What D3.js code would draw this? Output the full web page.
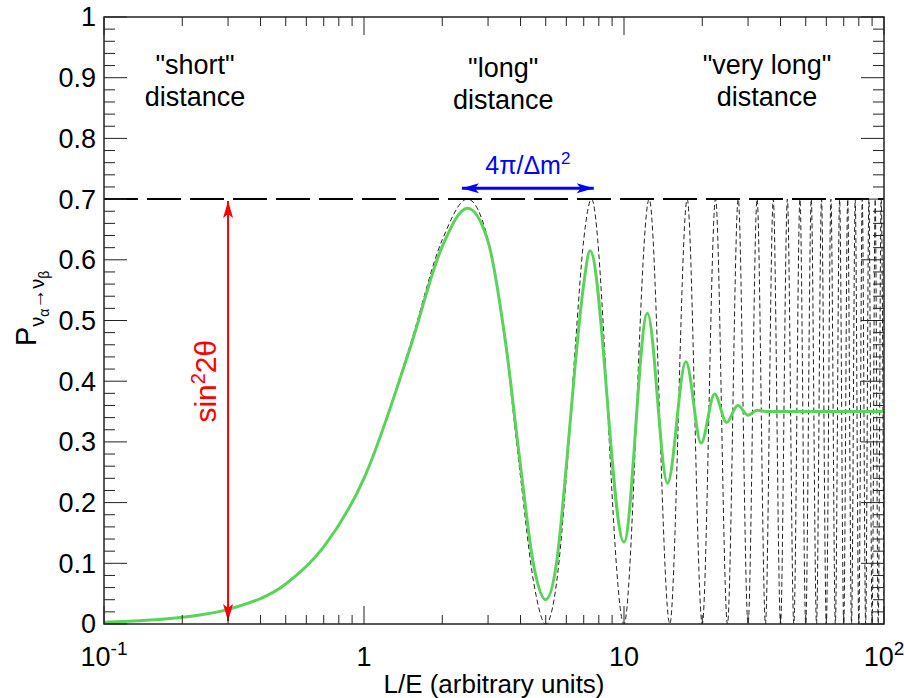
<!DOCTYPE html>
<html>
<head>
<meta charset="utf-8">
<script src="https://cdn.jsdelivr.net/npm/d3@7"></script>
<style>
	body { margin: 0; background: #fff; }
	svg text { font-family: 'Liberation Sans', Arial, Helvetica, sans-serif; }
</style>
</head>
<body>
<div class="chart"></div>
<script>
// pure oscillation (black dashed)
const dashedX = [0.1, 0.2, 0.3, 0.5, 0.7, 1, 1.5, 2, 2.5, 3, 3.5, 4, 4.5, 5, 5.5, 6, 6.5, 7, 7.5,
	10, 12.5, 15, 17.5, 20, 22.5, 25, 27.5, 30, 32.5, 35, 37.5, 40, 42.5, 45, 47.5, 50, 52.5,
	55, 57.5, 60, 62.5, 65, 67.5, 70, 72.5, 75, 77.5, 80, 82.5, 85, 87.5, 90, 92.5, 95, 97.5, 100]
const dashedY = [0.003, 0.011, 0.024, 0.067, 0.128, 0.242, 0.458, 0.633, 0.7, 0.633, 0.458, 0.242, 0.067, 0, 0.067, 0.242, 0.458, 0.633, 0.7,
	0, 0.7, 0, 0.7, 0, 0.7, 0, 0.7, 0, 0.7, 0, 0.7, 0, 0.7, 0, 0.7, 0, 0.7,
	0, 0.7, 0, 0.7, 0, 0.7, 0, 0.7, 0, 0.7, 0, 0.7, 0, 0.7, 0, 0.7, 0, 0.7, 0]

// averaged probability (green)
const greenX = [0.1, 0.2, 0.3, 0.5, 0.7, 1, 1.5, 2, 2.5, 3, 3.5, 4, 4.5, 5, 5.5, 6, 6.5, 7, 7.4,
	10, 12.3, 14.7, 17.3, 19.8, 22.3, 24.8, 27.4, 30, 32.5, 36, 100]
const greenY = [0.003, 0.011, 0.024, 0.066, 0.127, 0.24, 0.453, 0.622, 0.685, 0.63, 0.465, 0.26, 0.095, 0.04, 0.1, 0.26, 0.43, 0.56, 0.615,
	0.135, 0.512, 0.232, 0.432, 0.298, 0.379, 0.332, 0.36, 0.344, 0.352, 0.35, 0.35]

const AMPLITUDE = 0.7
const regionX = [0.224, 3.43, 35.5]
const regionLines = [['"short"', 'distance'], ['"long"', 'distance'], ['"very long"', 'distance']]
const regionTop = [57, 60, 57]
const xTickValues = [0.1, 1, 10, 100]
const xTickLabels = [['10', '-1'], ['1', ''], ['10', ''], ['10', '2']]
const yTickValues = [0, 0.1, 0.2, 0.3, 0.4, 0.5, 0.6, 0.7, 0.8, 0.9, 1]
const yTickLabels = ['0', '0.1', '0.2', '0.3', '0.4', '0.5', '0.6', '0.7', '0.8', '0.9', '1']
const sinArrowX = 0.3
const periodArrow = [2.38, 7.65]
const periodArrowY = 0.718

const width = 904
const height = 698
const margin = { top: 17, right: 20, bottom: 74, left: 104 }
const chartWidth = width - margin.left - margin.right
const chartHeight = height - margin.top - margin.bottom

const scaleX = d3.scaleLog().domain([0.1, 100]).range([0, chartWidth])
const scaleY = d3.scaleLinear().domain([0, 1]).range([chartHeight, 0])

const svg = d3.select('.chart').append('svg')
	.attr('width', width)
	.attr('height', height)

const defs = svg.append('defs')
defs.append('clipPath').attr('id', 'clip')
	.append('rect')
	.attr('width', chartWidth)
	.attr('height', chartHeight)

function marker(id, color) {
	defs.append('marker')
		.attr('id', id)
		.attr('markerUnits', 'userSpaceOnUse')
		.attr('viewBox', '-18 -6 20 12')
		.attr('markerWidth', 20)
		.attr('markerHeight', 12)
		.attr('refX', 0)
		.attr('refY', 0)
		.attr('orient', 'auto-start-reverse')
		.append('path')
		.attr('d', 'M0,0 L-17,-5 L-13,0 L-17,5 Z')
		.attr('fill', color)
}
marker('head-red', '#ff0000')
marker('head-blue', '#0000ff')

const g = svg.append('g').attr('transform', `translate(${margin.left},${margin.top})`)

const plot = g.append('g').attr('clip-path', 'url(#clip)')

const line = d3.line()
	.x(d => scaleX(d[0]))
	.y(d => scaleY(d[1]))
	.curve(d3.curveMonotoneX)

plot.append('path')
	.datum(d3.zip(dashedX, dashedY))
	.attr('d', line)
	.attr('fill', 'none')
	.attr('stroke', '#222')
	.attr('stroke-width', 1)
	.attr('stroke-dasharray', '5,3')

plot.append('line')
	.attr('x1', 0)
	.attr('x2', chartWidth)
	.attr('y1', scaleY(AMPLITUDE))
	.attr('y2', scaleY(AMPLITUDE))
	.attr('stroke', '#000')
	.attr('stroke-width', 2)
	.attr('stroke-dasharray', '34,9')

plot.append('path')
	.datum(d3.zip(greenX, greenY))
	.attr('d', line)
	.attr('fill', 'none')
	.attr('stroke', '#5ad35a')
	.attr('stroke-width', 3)

// sin^2 2theta arrow
g.append('line')
	.attr('x1', scaleX(sinArrowX))
	.attr('x2', scaleX(sinArrowX))
	.attr('y1', scaleY(0.005))
	.attr('y2', scaleY(AMPLITUDE - 0.003))
	.attr('stroke', '#ff0000')
	.attr('stroke-width', 2)
	.attr('marker-start', 'url(#head-red)')
	.attr('marker-end', 'url(#head-red)')

g.append('text')
	.attr('transform', `translate(${scaleX(sinArrowX) - 12},${scaleY(0.4)}) rotate(-90)`)
	.attr('text-anchor', 'middle')
	.attr('fill', '#ff0000')
	.style('font-size', '30px')
	.call(t => {
		t.append('tspan').text('sin')
		t.append('tspan').attr('dy', -11).style('font-size', '20px').text('2')
		t.append('tspan').attr('dy', 11).text('2θ')
	})

// period arrow
g.append('line')
	.attr('x1', scaleX(periodArrow[0]))
	.attr('x2', scaleX(periodArrow[1]))
	.attr('y1', scaleY(periodArrowY))
	.attr('y2', scaleY(periodArrowY))
	.attr('stroke', '#0000ff')
	.attr('stroke-width', 3)
	.attr('marker-start', 'url(#head-blue)')
	.attr('marker-end', 'url(#head-blue)')

g.append('text')
	.attr('x', (scaleX(periodArrow[0]) + scaleX(periodArrow[1])) / 2)
	.attr('y', scaleY(periodArrowY) - 14)
	.attr('text-anchor', 'middle')
	.attr('fill', '#0000ff')
	.style('font-size', '25px')
	.call(t => {
		t.append('tspan').text('4π/Δm')
		t.append('tspan').attr('dy', -10).style('font-size', '17px').text('2')
	})

// region labels
const region = g.selectAll('.region').data(regionX).enter().append('text')
	.attr('class', 'region')
	.attr('text-anchor', 'middle')
	.style('font-size', '27px')
	.attr('fill', '#000')
region.selectAll('tspan').data((d, i) => regionLines[i].map(l => ({ x: d, l, top: regionTop[i] }))).enter().append('tspan')
	.attr('x', d => scaleX(d.x))
	.attr('y', (d, i) => d.top + i * 32)
	.text(d => d.l)

// frame
g.append('rect')
	.attr('width', chartWidth)
	.attr('height', chartHeight)
	.attr('fill', 'none')
	.attr('stroke', '#222')
	.attr('stroke-width', 1.5)

// ticks
const xTicks = scaleX.ticks().map(v => ({ v, major: Math.abs(Math.log10(v) - Math.round(Math.log10(v))) < 1e-9 }))
const yTicks = d3.range(0, 51).map(i => ({ v: i / 50, major: i % 5 === 0 }))

const ticks = g.append('g').attr('stroke', '#222').attr('stroke-width', 1)
ticks.selectAll('.xb').data(xTicks).enter().append('line')
	.attr('x1', d => scaleX(d.v)).attr('x2', d => scaleX(d.v))
	.attr('y1', chartHeight).attr('y2', d => chartHeight - (d.major ? 18 : 9))
ticks.selectAll('.xt').data(xTicks).enter().append('line')
	.attr('x1', d => scaleX(d.v)).attr('x2', d => scaleX(d.v))
	.attr('y1', 0).attr('y2', d => d.major ? 18 : 9)
ticks.selectAll('.yl').data(yTicks).enter().append('line')
	.attr('y1', d => scaleY(d.v)).attr('y2', d => scaleY(d.v))
	.attr('x1', 0).attr('x2', d => d.major ? 23 : 11)
ticks.selectAll('.yr').data(yTicks).enter().append('line')
	.attr('y1', d => scaleY(d.v)).attr('y2', d => scaleY(d.v))
	.attr('x1', chartWidth).attr('x2', d => chartWidth - (d.major ? 23 : 11))

// tick labels
g.selectAll('.ylab').data(yTickValues).enter().append('text')
	.attr('x', -8)
	.attr('y', d => scaleY(d))
	.attr('dy', '0.35em')
	.attr('text-anchor', 'end')
	.style('font-size', '27px')
	.text((d, i) => yTickLabels[i])

g.selectAll('.xlab').data(xTickValues).enter().append('text')
	.attr('x', d => scaleX(d))
	.attr('y', chartHeight + 42)
	.attr('text-anchor', 'middle')
	.style('font-size', '27px')
	.each(function(d, i) {
		const t = d3.select(this)
		t.append('tspan').text(xTickLabels[i][0])
		if (xTickLabels[i][1]) t.append('tspan').attr('dy', -11).style('font-size', '19px').text(xTickLabels[i][1])
	})

// axis titles
g.append('text')
	.attr('x', chartWidth / 2)
	.attr('y', chartHeight + 69)
	.attr('text-anchor', 'middle')
	.style('font-size', '26px')
	.text('L/E (arbitrary units)')

g.append('text')
	.attr('transform', `translate(${-68},${scaleY(0.52)}) rotate(-90)`)
	.attr('text-anchor', 'middle')
	.style('font-size', '29px')
	.call(t => {
		t.append('tspan').text('P')
		t.append('tspan').attr('dy', 8).style('font-size', '20px').text('ν')
		t.append('tspan').attr('dy', 5).style('font-size', '14px').text('α')
		t.append('tspan').attr('dy', -5).style('font-size', '20px').text('→')
		t.append('tspan').style('font-size', '20px').text('ν')
		t.append('tspan').attr('dy', 5).style('font-size', '14px').text('β')
	})
</script>
</body>
</html>
